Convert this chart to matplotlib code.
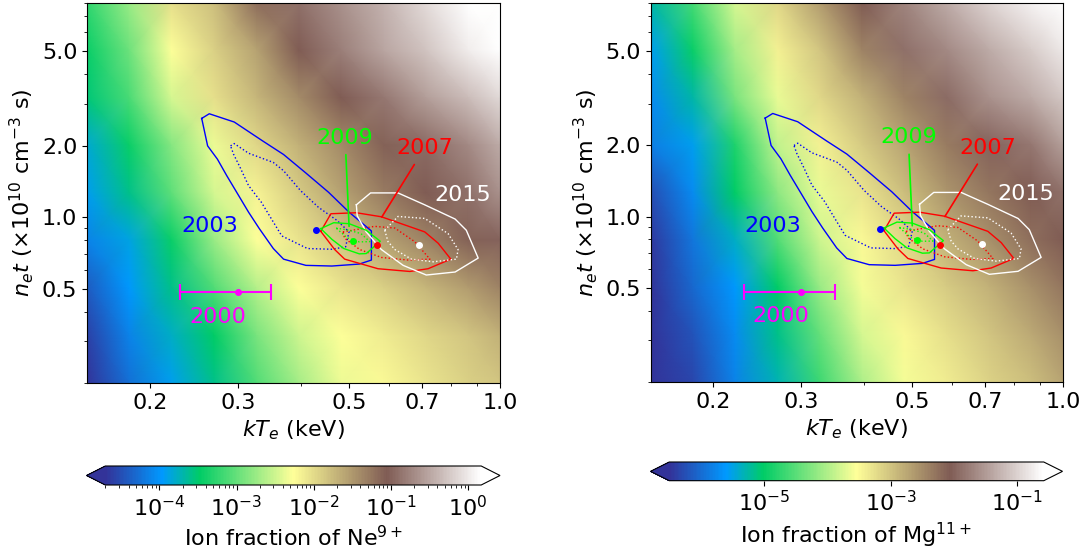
import matplotlib
matplotlib.use("Agg")
import matplotlib.pyplot as plt
import numpy as np
from matplotlib.colors import LogNorm
from matplotlib.ticker import FixedLocator, FixedFormatter, NullFormatter, LogLocator, NullLocator

# nodes of the ion fraction maps (kT in keV, n_e t in 1e10 cm^-3 s, top -> bottom)
kt_nodes = [0.150, 0.182, 0.221, 0.269, 0.327, 0.397, 0.482, 0.586, 0.712, 0.865, 1.0]
net_nodes = [8.0, 5.04, 3.18, 2.005, 1.264, 0.797, 0.503, 0.317, 0.2]

# log10 ion fraction of Ne9+, rows follow net_nodes
ne9_log = [
    [-3.24, -2.75, -2.02, -1.78, -1.19, -0.90, -0.66, -0.41, -0.10, 0.17, 0.30],
    [-3.43, -2.95, -2.27, -1.92, -1.58, -1.05, -0.80, -0.51, -0.28, 0.02, 0.20],
    [-3.53, -3.14, -2.46, -2.02, -1.73, -1.39, -1.05, -0.85, -0.56, -0.33, -0.12],
    [-3.82, -3.43, -2.85, -2.36, -1.97, -1.68, -1.39, -1.10, -0.95, -0.71, -0.46],
    [-3.92, -3.58, -3.04, -2.46, -2.17, -1.88, -1.58, -1.29, -1.05, -0.90, -0.66],
    [-4.12, -3.87, -3.43, -2.75, -2.27, -2.07, -1.83, -1.58, -1.34, -1.10, -1.00],
    [-4.41, -3.97, -3.58, -3.09, -2.61, -2.27, -2.07, -1.92, -1.73, -1.53, -1.34],
    [-4.60, -4.12, -3.77, -3.48, -2.90, -2.51, -2.27, -2.12, -1.97, -1.83, -1.68],
    [-4.70, -4.26, -3.92, -3.58, -3.09, -2.70, -2.36, -2.22, -2.07, -1.92, -1.83],
]

# log10 ion fraction of Mg11+
mg11_log = [
    [-5.26, -4.61, -3.78, -3.18, -2.65, -2.06, -1.70, -1.35, -0.98, -0.70, -0.45],
    [-5.55, -4.96, -4.07, -3.42, -3.01, -2.42, -1.88, -1.65, -1.35, -1.05, -0.80],
    [-5.73, -5.26, -4.31, -3.66, -3.18, -2.83, -2.42, -1.94, -1.59, -1.35, -1.11],
    [-5.85, -5.55, -4.84, -3.90, -3.42, -3.07, -2.71, -2.36, -2.00, -1.82, -1.47],
    [-6.26, -5.73, -5.02, -4.19, -3.66, -3.30, -2.95, -2.59, -2.30, -2.06, -1.88],
    [-6.44, -5.91, -5.38, -4.55, -3.84, -3.48, -3.18, -2.83, -2.53, -2.24, -2.06],
    [-6.50, -6.03, -5.61, -5.02, -4.13, -3.60, -3.30, -3.07, -2.83, -2.53, -2.30],
    [-6.50, -6.20, -5.73, -5.14, -4.43, -3.78, -3.48, -3.24, -3.01, -2.77, -2.53],
    [-6.50, -6.32, -5.79, -5.32, -4.66, -4.01, -3.60, -3.36, -3.13, -2.95, -2.71],
]

# confidence contours (kT, n_e t)
c2003_kt = [0.254, 0.263, 0.295, 0.336, 0.370, 0.410, 0.455, 0.500, 0.554, 0.554, 0.524,
            0.462, 0.410, 0.370, 0.353, 0.331, 0.315, 0.301, 0.285, 0.273, 0.261, 0.254]
c2003_net = [2.604, 2.724, 2.514, 2.094, 1.835, 1.533, 1.272, 1.049, 0.874, 0.659, 0.634,
             0.622, 0.626, 0.665, 0.737, 0.894, 1.049, 1.232, 1.494, 1.754, 1.995, 2.604]
c2003d_kt = [0.290, 0.295, 0.315, 0.353, 0.370, 0.400, 0.434, 0.473, 0.500, 0.492, 0.462,
             0.413, 0.367, 0.353, 0.334, 0.315, 0.303, 0.294, 0.290]
c2003d_net = [1.995, 2.040, 1.858, 1.699, 1.568, 1.293, 1.101, 0.968, 0.866, 0.749, 0.732,
              0.737, 0.833, 0.953, 1.156, 1.357, 1.619, 1.841, 1.995]

c2009_kt = [0.439, 0.466, 0.500, 0.541, 0.577, 0.541, 0.524, 0.488, 0.462, 0.439]
c2009_net = [0.894, 0.947, 0.938, 0.880, 0.791, 0.702, 0.700, 0.737, 0.806, 0.894]
c2009d_kt = [0.471, 0.500, 0.528, 0.550, 0.524, 0.496, 0.471]
c2009d_net = [0.899, 0.880, 0.852, 0.788, 0.786, 0.817, 0.899]

c2007_kt = [0.439, 0.460, 0.517, 0.580, 0.708, 0.753, 0.798, 0.719, 0.661, 0.571, 0.490, 0.468, 0.439]
c2007_net = [0.871, 1.033, 1.043, 1.003, 0.866, 0.776, 0.665, 0.606, 0.590, 0.606, 0.665, 0.730, 0.871]
c2007d_kt = [0.486, 0.562, 0.617, 0.676, 0.725, 0.656, 0.580, 0.525, 0.490, 0.486]
c2007d_net = [0.866, 0.914, 0.899, 0.788, 0.665, 0.659, 0.676, 0.730, 0.814, 0.866]

c2015_kt = [0.517, 0.552, 0.626, 0.708, 0.814, 0.857, 0.905, 0.814, 0.713, 0.641, 0.580, 0.541, 0.519, 0.517]
c2015_net = [1.126, 1.264, 1.264, 1.126, 0.981, 0.880, 0.672, 0.587, 0.570, 0.626, 0.730, 0.866, 1.013, 1.126]
c2015d_kt = [0.589, 0.626, 0.708, 0.788, 0.825, 0.819, 0.736, 0.666, 0.617, 0.598, 0.589]
c2015d_net = [0.880, 1.006, 0.987, 0.852, 0.730, 0.665, 0.648, 0.665, 0.730, 0.788, 0.880]

# best fits
best_kt = [0.430, 0.510, 0.569, 0.690]
best_net = [0.885, 0.793, 0.761, 0.766]
best_colors = ["blue", "lime", "red", "white"]

# 2000 measurement
kt2000, kt2000_lo, kt2000_hi, net2000 = 0.300, 0.230, 0.350, 0.482

W, H = 1089, 554
FS = 16

fig = plt.figure(figsize=(W / 100, H / 100), dpi=100)


def px(l, b, r, t):
    return [l / W, 1 - b / H, (r - l) / W, (b - t) / H]


def panel(ax_rect, cax_rect, logvals, vmin, vmax, cticks, cminor, clabel):
    ax = fig.add_axes(ax_rect)
    X, Y = np.meshgrid(kt_nodes, net_nodes)
    C = 10.0 ** np.array(logvals)
    mesh = ax.pcolormesh(X, Y, C, shading="gouraud", cmap="terrain",
                         norm=LogNorm(vmin=vmin, vmax=vmax))
    ax.set_xscale("log")
    ax.set_yscale("log")
    ax.set_xlim(0.15, 1.0)
    ax.set_ylim(0.2, 8.0)

    ax.plot(c2003_kt, c2003_net, "-", color="blue", lw=1.0)
    ax.plot(c2003d_kt, c2003d_net, ":", color="blue", lw=1.0)
    ax.plot(c2007_kt, c2007_net, "-", color="red", lw=1.0)
    ax.plot(c2007d_kt, c2007d_net, ":", color="red", lw=1.0)
    ax.plot(c2015_kt, c2015_net, "-", color="white", lw=1.0)
    ax.plot(c2015d_kt, c2015d_net, ":", color="white", lw=1.0)
    ax.plot(c2009_kt, c2009_net, "-", color="lime", lw=1.0)
    ax.plot(c2009d_kt, c2009d_net, ":", color="lime", lw=1.0)
    for k, n, c in zip(best_kt, best_net, best_colors):
        ax.plot(k, n, "o", color=c, ms=4)

    ax.errorbar(kt2000, net2000, xerr=[[kt2000 - kt2000_lo], [kt2000_hi - kt2000]],
                fmt="o", color="magenta", ms=4, capsize=6, lw=1.5, capthick=1.5)

    ax.text(0.263, 0.914, "2003", color="blue", fontsize=FS, ha="center", va="center")
    ax.text(0.2735, 0.379, "2000", color="magenta", fontsize=FS, ha="center", va="center")
    ax.text(0.844, 1.244, "2015", color="white", fontsize=FS, ha="center", va="center")
    ax.annotate("2009", xy=(0.500, 0.914), xytext=(0.491, 2.16), color="lime",
                fontsize=FS, ha="center", va="center",
                arrowprops=dict(arrowstyle="-", color="lime", lw=1.2, shrinkA=3, shrinkB=0))
    ax.annotate("2007", xy=(0.581, 1.0), xytext=(0.707, 1.95), color="red",
                fontsize=FS, ha="center", va="center",
                arrowprops=dict(arrowstyle="-", color="red", lw=1.2, shrinkA=3, shrinkB=0))

    ax.xaxis.set_major_locator(FixedLocator([0.2, 0.3, 0.5, 0.7, 1.0]))
    ax.xaxis.set_major_formatter(FixedFormatter(["0.2", "0.3", "0.5", "0.7", "1.0"]))
    ax.xaxis.set_minor_formatter(NullFormatter())
    ax.yaxis.set_major_locator(FixedLocator([0.5, 1.0, 2.0, 5.0]))
    ax.yaxis.set_major_formatter(FixedFormatter(["0.5", "1.0", "2.0", "5.0"]))
    ax.yaxis.set_minor_formatter(NullFormatter())
    ax.tick_params(labelsize=FS)
    ax.set_xlabel("$kT_e$ (keV)", fontsize=FS)
    ax.set_ylabel(r"$n_et$ ($\times10^{10}$ cm$^{-3}$ s)", fontsize=FS)

    cax = fig.add_axes(cax_rect)
    cb = fig.colorbar(mesh, cax=cax, orientation="horizontal", extend="both")
    cb.set_ticks(cticks)
    if cminor:
        cax.xaxis.set_minor_locator(LogLocator(base=10, subs=np.arange(2, 10), numticks=20))
    else:
        cax.xaxis.set_minor_locator(NullLocator())
    cax.xaxis.set_minor_formatter(NullFormatter())
    cax.tick_params(labelsize=FS)
    cb.set_label(clabel, fontsize=FS)
    return ax


panel(px(87.1, 383, 499.9, 2.7), px(86.5, 485, 500, 466),
      ne9_log, 10 ** -4.7, 10 ** 0.17, [1e-4, 1e-3, 1e-2, 1e-1, 1e0], True,
      "Ion fraction of Ne$^{9+}$")
panel(px(650.8, 382, 1062.8, 2.7), px(650.5, 480.7, 1062.5, 462),
      mg11_log, 10 ** -6.5, 10 ** -0.58, [1e-5, 1e-3, 1e-1], False,
      "Ion fraction of Mg$^{11+}$")

fig.savefig("out.png", dpi=100)
